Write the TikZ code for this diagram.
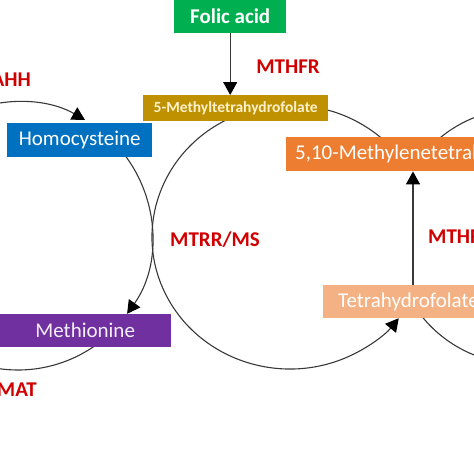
\documentclass[tikz,border=0pt]{standalone}
\usepackage{fontspec}
\setmainfont{Carlito}
\usetikzlibrary{arrows.meta}
\definecolor{cfolic}{HTML}{00B050}
\definecolor{cgold}{HTML}{BF9000}
\definecolor{ccream}{HTML}{FFF2CC}
\definecolor{cblue}{HTML}{0070C0}
\definecolor{corange}{HTML}{ED7D31}
\definecolor{cpeach}{HTML}{F4B183}
\definecolor{cpurple}{HTML}{7030A0}
\definecolor{cred}{HTML}{D00000}
\begin{document}
\begin{tikzpicture}[x=1pt,y=1pt,
  conn/.style={draw=black!78, line width=1.1pt},
  arr/.style={conn, -{Triangle[length=13pt,width=14pt,color=black]}},
  box/.style={anchor=north west, inner sep=0pt, font=\fontsize{21}{25}\selectfont},
  lbl/.style={text=cred, font=\bfseries\fontsize{21}{25}\selectfont, inner sep=0pt}]
\useasboundingbox (0,0) rectangle (474,-474);
\clip (0,0) rectangle (474,-474);
% circle centres
\coordinate (Lc) at (18,-236);
\coordinate (Mc) at (290,-237);
\coordinate (Rc) at (521.5,-236.3);
\coordinate (vx) at (413,0);
% arcs
\draw[arr] (Lc) ++(115:134) arc[start angle=115, end angle=60, radius=134];
\draw[arr] (Lc) ++(38:134) arc[start angle=38, end angle=-35.5, radius=134];
\draw[conn] (Lc) ++(-53:134) arc[start angle=-53, end angle=-110, radius=134];
\draw[arr] (Mc) ++(115:138 and 132) arc[start angle=115, end angle=322, x radius=138, y radius=132];
\draw[conn] (Mc) ++(80:138 and 132) arc[start angle=80, end angle=45, x radius=138, y radius=132];
\draw[conn] (Rc) ++(135:127.8) arc[start angle=135, end angle=95, radius=127.8];
\draw[conn] (Rc) ++(215:127.8) arc[start angle=215, end angle=265, radius=127.8];
% boxes
\node[box, fill=cfolic, text=white, minimum width=112pt, minimum height=33pt, font=\bfseries\fontsize{21}{25}\selectfont] (folic) at (174,0) {Folic acid};
\node[box, fill=cgold, text=ccream, minimum width=185pt, minimum height=26pt, font=\bfseries\fontsize{15.5}{18}\selectfont] (mthf) at (143,-95) {5-Methyltetrahydrofolate};
\node[box, fill=cblue, text=white, minimum width=145pt, minimum height=34pt] (hcy) at (7,-123) {Homocysteine};
\node[box, fill=corange, text=white, minimum height=34pt, inner xsep=9pt] (mth) at (286,-137) {5,10-Methylenetetrahydrofolate};
\node[box, fill=cpeach, text=white, minimum height=33pt, inner xsep=15pt] (thf) at (323,-285) {Tetrahydrofolate};
\node[box, fill=cpurple, text=white!92!cpurple, minimum width=172pt, minimum height=33pt] (met) at (-1,-314) {Methionine};
% straight arrows
\draw[arr] (folic.south) -- (folic.south |- mthf.north);
\draw[arr] (thf.north -| vx) -- (mth.south -| vx);
% labels
\node[lbl, anchor=east] (sahh) at (31,-80) {AHH};
\node[lbl] (mthfrA) at (288,-67) {MTHFR};
\node[lbl, anchor=west] (mtrr) at (170,-240) {MTRR/MS};
\node[lbl, anchor=west] (mthfrB) at (428,-237) {MTHFR};
\node[lbl, anchor=east] (mat) at (37,-390) {MAT};
\end{tikzpicture}
\end{document}
